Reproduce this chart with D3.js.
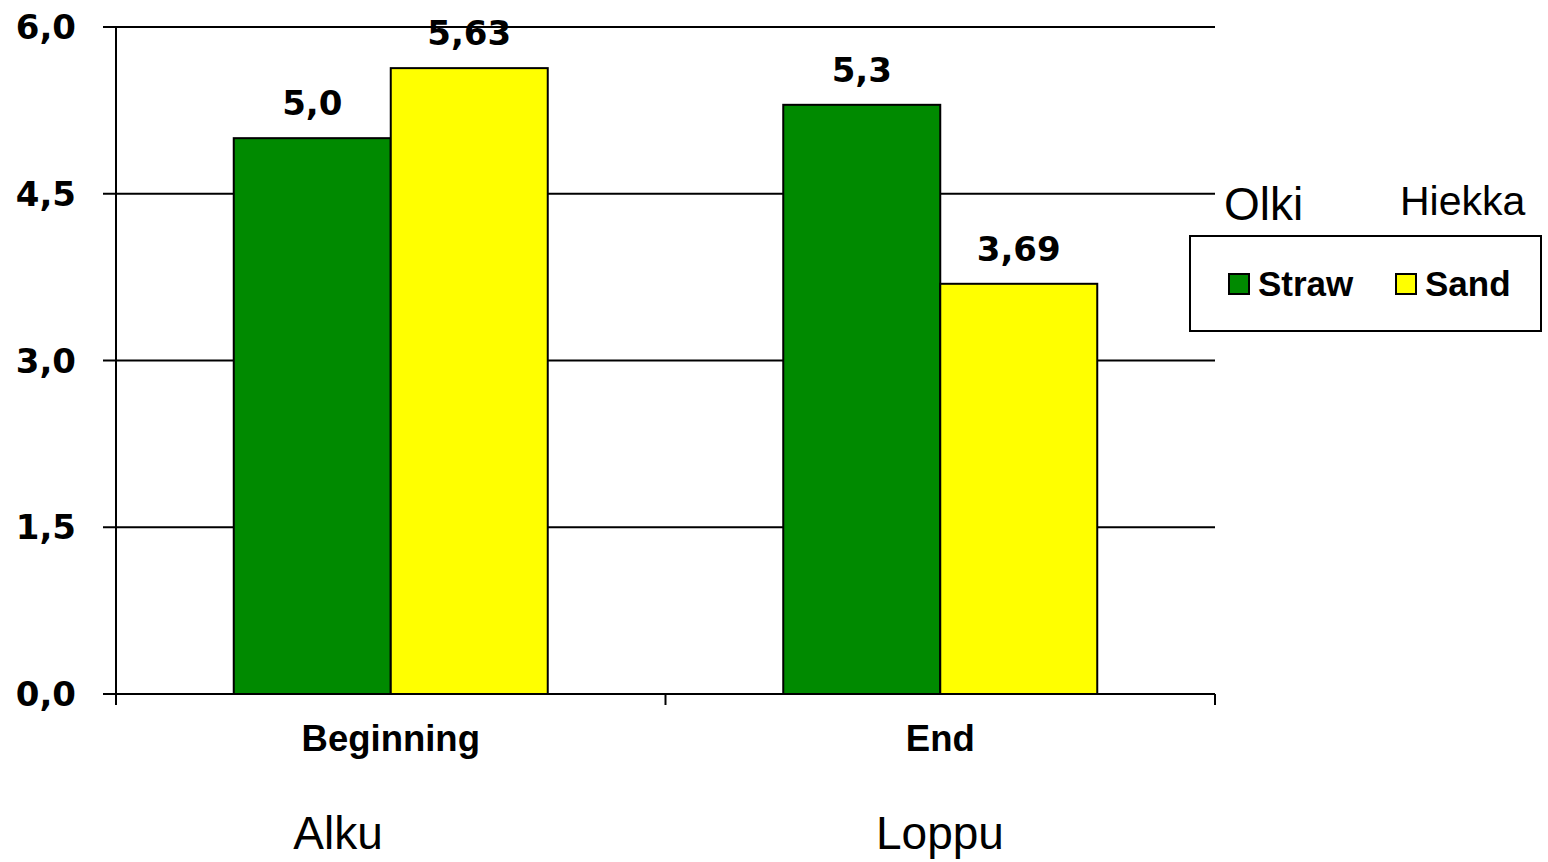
<!DOCTYPE html>
<html>
<head>
<meta charset="utf-8">
<script src="https://cdn.jsdelivr.net/npm/d3@7"></script>
<style>
  html, body { margin: 0; padding: 0; background: #fff; }
  svg { display: block; }
</style>
</head>
<body>
<svg id="chart" width="1548" height="862"></svg>
<script>
// Categories, series and values
const categories = ["Beginning", "End"];
const categoriesFi = ["Alku", "Loppu"];
const series = ["Straw", "Sand"];
const seriesFi = ["Olki", "Hiekka"];
const strawValues = [5.0, 5.3];
const sandValues = [5.63, 3.69];
const valueLabels = [["5,0", "5,63"], ["5,3", "3,69"]];
const yTicks = [0, 1.5, 3.0, 4.5, 6.0];
const yTickLabels = ["0,0", "1,5", "3,0", "4,5", "6,0"];

const colors = { Straw: "#008a00", Sand: "#ffff00" };

const rows = categories.map((c, i) => ({
  category: c,
  values: [
    { key: "Straw", value: strawValues[i], label: valueLabels[i][0] },
    { key: "Sand", value: sandValues[i], label: valueLabels[i][1] }
  ]
}));

const svg = d3.select("#chart");
const plot = { left: 116, right: 1215, top: 27, bottom: 694 };

const x0 = d3.scaleBand().domain(categories).range([plot.left, plot.right]).paddingInner(0).paddingOuter(0);
const x1 = d3.scaleBand().domain(series).range([0, x0.bandwidth()]).paddingInner(0).paddingOuter(0.75);
const y = d3.scaleLinear().domain([0, 6]).range([plot.bottom, plot.top]);

const tickFont = "'DejaVu Sans', Verdana, sans-serif";
const arial = "'Liberation Sans', Arial, sans-serif";

// Horizontal gridlines with left tick marks
svg.append("g").selectAll("line").data(yTicks).join("line")
  .attr("x1", plot.left - 13).attr("x2", plot.right)
  .attr("y1", d => y(d)).attr("y2", d => y(d))
  .attr("stroke", "#000").attr("stroke-width", 2);

// Y tick labels
svg.append("g").selectAll("text").data(yTicks).join("text")
  .attr("x", 76).attr("y", d => y(d))
  .attr("dy", "0.36em")
  .attr("text-anchor", "end")
  .attr("font-family", tickFont).attr("font-weight", "bold").attr("font-size", 34)
  .text((d, i) => yTickLabels[i]);

// Bars
const groups = svg.append("g").selectAll("g").data(rows).join("g")
  .attr("transform", d => `translate(${x0(d.category)},0)`);

groups.selectAll("rect").data(d => d.values).join("rect")
  .attr("x", d => x1(d.key)).attr("width", x1.bandwidth())
  .attr("y", d => y(d.value)).attr("height", d => y(0) - y(d.value))
  .attr("fill", d => colors[d.key])
  .attr("stroke", "#000").attr("stroke-width", 2);

// Value labels
groups.selectAll("text").data(d => d.values).join("text")
  .attr("x", d => x1(d.key) + x1.bandwidth() / 2)
  .attr("y", d => y(d.value) - 23)
  .attr("text-anchor", "middle")
  .attr("font-family", tickFont).attr("font-weight", "bold").attr("font-size", 34)
  .text(d => d.label);

// Y axis line
svg.append("line")
  .attr("x1", plot.left).attr("x2", plot.left)
  .attr("y1", plot.top).attr("y2", plot.bottom + 11)
  .attr("stroke", "#000").attr("stroke-width", 2);

// X axis ticks at band boundaries
const xBoundaries = [plot.left, ...categories.slice(1).map(c => x0(c)), plot.right];
svg.append("g").selectAll("line").data(xBoundaries).join("line")
  .attr("x1", d => d).attr("x2", d => d)
  .attr("y1", plot.bottom).attr("y2", plot.bottom + 11)
  .attr("stroke", "#000").attr("stroke-width", 2);

// Category labels
svg.append("g").selectAll("text").data(categories).join("text")
  .attr("x", d => x0(d) + x0.bandwidth() / 2)
  .attr("y", 751)
  .attr("text-anchor", "middle")
  .attr("font-family", arial).attr("font-weight", "bold").attr("font-size", 36.5)
  .text(d => d);

// Finnish category names below
const fiX = [338, 940];
const fiY = [849, 849];
svg.append("g").selectAll("text").data(categoriesFi).join("text")
  .attr("x", (d, i) => fiX[i]).attr("y", (d, i) => fiY[i])
  .attr("text-anchor", "middle")
  .attr("font-family", arial).attr("font-size", 46)
  .text(d => d);

// Legend
const legend = svg.append("g");
legend.append("rect")
  .attr("x", 1190).attr("y", 236).attr("width", 351).attr("height", 95)
  .attr("fill", "#fff").attr("stroke", "#000").attr("stroke-width", 2);

const legendX = [1229, 1396];
series.forEach((s, i) => {
  legend.append("rect")
    .attr("x", legendX[i]).attr("y", 274).attr("width", 20).attr("height", 20)
    .attr("fill", colors[s]).attr("stroke", "#000").attr("stroke-width", 2);
  legend.append("text")
    .attr("x", legendX[i] + 29).attr("y", 296)
    .attr("font-family", arial).attr("font-weight", "bold").attr("font-size", 35)
    .text(s);
});

// Finnish series names above legend
legend.append("text")
  .attr("x", 1224).attr("y", 220)
  .attr("font-family", arial).attr("font-size", 46)
  .text(seriesFi[0]);
legend.append("text")
  .attr("x", 1400).attr("y", 215)
  .attr("font-family", arial).attr("font-size", 41)
  .text(seriesFi[1]);
</script>
</body>
</html>
